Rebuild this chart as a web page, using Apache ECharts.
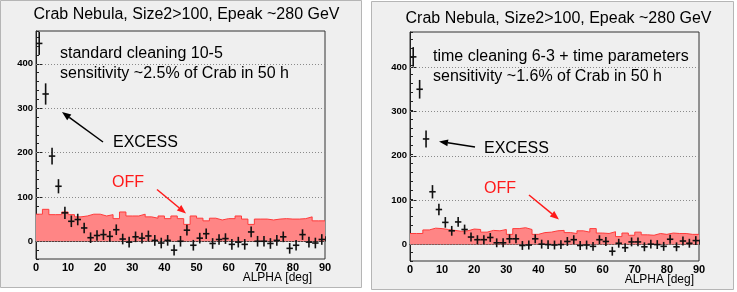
<!DOCTYPE html>
<html><head><meta charset="utf-8">
<script src="https://cdn.jsdelivr.net/npm/echarts@6/dist/echarts.min.js"></script>
<style>html,body{margin:0;padding:0;background:#fff}#c{width:737px;height:292px}</style>
</head><body><div id="c"></div>
<script>
// ---- data ----
const alphaCenters = [1,3,5,7,9,11,13,15,17,19,21,23,25,27,29,31,33,35,37,39,41,43,45,47,49,51,53,55,57,59,61,63,65,67,69,71,73,75,77,79,81,83,85,87,89];
const binEdges = [0,2,4,6,8,10,12,14,16,18,20,22,24,26,28,30,32,34,36,38,40,42,44,46,48,50,52,54,56,58,60,62,64,66,68,70,72,74,76,78,80,82,84,86,88,90];
const binHalfWidth = 1;
const leftExcess = [446,332,192,124,64,45,49,30,8,13,15,11,26,5,-2,10,7,12,2,-4,2,-20,0,25,-9,7,17,-5,4,6,-7,-2,-7,21,0,0,-5,2,10,-16,-9,15,-2,-4,4];
const leftExcessErr = [26,24,19,16,14,13,13,12,12,12,12,12,12,12,12,12,12,12,12,12,12,12,12,12,12,12,12,12,12,12,12,12,12,12,12,12,12,12,12,12,12,12,12,12,12];
const leftOff = [61,72,60,60,66,60,55,57,61,61,57,60,51,66,57,57,61,55,52,57,51,57,51,38,57,52,46,52,48,51,51,57,50,38,50,50,48,50,51,50,50,51,55,46,46];
const rightExcess = [423,350,238,119,79,50,31,51,34,17,11,11,16,4,4,13,13,-2,-1,13,1,0,-1,0,7,11,-2,-1,-4,11,7,-15,3,-7,6,6,-5,1,0,-4,12,-5,8,3,9];
const rightExcessErr = [22,21,19,15,13,12,11,11,11,10,10,10,10,10,10,10,10,10,10,10,10,10,10,10,10,10,10,10,10,10,10,10,10,10,10,10,10,10,10,10,10,10,10,10,10];
const rightOff = [25,25,33,37,36,34,32,30,31,35,34,28,32,31,34,23,36,38,34,23,27,28,31,32,27,25,31,28,36,26,25,29,18,26,21,28,22,21,25,23,26,25,25,23,23];
const yMajorTicks = [0,100,200,300,400];
const titleText = 'Crab Nebula, Size2>100, Epeak ~280 GeV';
const xName = 'ALPHA [deg]';

// ---- build ----
const FONT = '"Liberation Sans", Arial, Helvetica, sans-serif';
const chart = echarts.init(document.getElementById('c'), null, {renderer:'canvas'});

function stepData(off){ const d = off.map((v,i)=>[binEdges[i], v]); d.push([binEdges[binEdges.length-1], off[off.length-1]]); return d; }
function errData(vals, errs){ return vals.map((v,i)=>[alphaCenters[i], v, errs[i]]); }

function crossRender(params, api){
  const x = api.value(0), y = api.value(1), e = api.value(2);
  const l = api.coord([x-binHalfWidth, y]), r = api.coord([x+binHalfWidth, y]);
  const t = api.coord([x, y+e]), b = api.coord([x, y-e]);
  const st = {stroke:'#111', lineWidth:1.6};
  return {type:'group', children:[
    {type:'line', shape:{x1:l[0],y1:l[1],x2:r[0],y2:r[1]}, style:st},
    {type:'line', shape:{x1:t[0],y1:t[1],x2:b[0],y2:b[1]}, style:st}
  ]};
}

const axisCol = '#222';
function xAx(g){ return {type:'value', gridIndex:g, min:0, max:90, interval:10,
  axisLine:{lineStyle:{color:axisCol,width:1}},
  axisTick:{inside:true, length:5, lineStyle:{color:axisCol}},
  minorTick:{show:true, splitNumber:5, length:3, lineStyle:{color:axisCol}},
  splitLine:{show:false},
  axisLabel:{fontSize:11, fontWeight:'bold', color:'#000', margin:3, fontFamily:FONT}}; }
function yAxMinor(g, mn, mx){ return {type:'value', gridIndex:g, position:'left', min:mn, max:mx, interval:20,
  axisLine:{show:true, lineStyle:{color:axisCol}},
  axisTick:{inside:true, length:3, lineStyle:{color:axisCol}},
  splitLine:{show:false},
  axisLabel:{show:true, customValues:yMajorTicks, fontSize:9.5, fontWeight:'bold', color:'#000', margin:3, fontFamily:FONT,
    formatter:(v)=> (yMajorTicks.indexOf(v) >= 0 ? String(v) : '')}}; }
function yAxMajor(g, mn, mx){ return {type:'value', gridIndex:g, position:'left', min:mn, max:mx,
  axisLine:{show:false},
  axisTick:{show:true, inside:true, length:7, customValues:yMajorTicks, lineStyle:{color:axisCol}},
  splitLine:{show:false}, axisLabel:{show:false}}; }

function offSeries(xi, yi, off){ return {type:'line', xAxisIndex:xi, yAxisIndex:yi, data:stepData(off), step:'end',
  symbol:'none', lineStyle:{color:'#ff3b3b', width:1}, areaStyle:{color:'#ff8585', opacity:1}, z:2,
  markLine:{silent:true, symbol:'none', label:{show:false},
    lineStyle:{color:'#8a8a8a', type:[1,2], width:1}, data: yMajorTicks.map(v=>({yAxis:v}))}}; }
function excSeries(xi, yi, vals, errs){ return {type:'custom', xAxisIndex:xi, yAxisIndex:yi, data:errData(vals, errs),
  renderItem:crossRender, z:5, clip:true}; }

function arrow(x1,y1,x2,y2,color){
  const a = Math.atan2(y2-y1, x2-x1), L = 9, W = 3.5;
  const bx = x2 - L*Math.cos(a), by = y2 - L*Math.sin(a);
  const px = -Math.sin(a)*W, py = Math.cos(a)*W;
  return [
    {type:'line', shape:{x1:x1,y1:y1,x2:bx,y2:by}, style:{stroke:color, lineWidth:1.5}, z:10},
    {type:'polygon', shape:{points:[[x2,y2],[bx+px,by+py],[bx-px,by-py]]}, style:{fill:color}, z:10}
  ];
}
function txt(x,y,s,size,color,align){ return {type:'text', x:x, y:y, z:10,
  style:{text:s, font:size+'px '+FONT, fill:color, textAlign:align||'left', textVerticalAlign:'middle'}}; }

const graphics = [
  {type:'rect', shape:{x:0.5,y:0.5,width:361,height:287}, style:{fill:'#efefef', stroke:'#b5b5b5', lineWidth:1}, z:-10},
  {type:'rect', shape:{x:371.5,y:1.5,width:362,height:288}, style:{fill:'#efefef', stroke:'#b5b5b5', lineWidth:1}, z:-10},
  txt(186.5, 15, titleText, 16, '#000', 'center'),
  txt(558.5, 19, titleText, 16, '#000', 'center'),
  txt(60, 54, 'standard cleaning 10-5', 16, '#000'),
  txt(60, 74, 'sensitivity ~2.5% of Crab in 50 h', 16, '#000'),
  txt(433, 57, 'time cleaning 6-3 + time parameters', 16, '#000'),
  txt(433, 77, 'sensitivity ~1.6% of Crab in 50 h', 16, '#000'),
  txt(113, 142.5, 'EXCESS', 16, '#000'),
  txt(484, 148.5, 'EXCESS', 16, '#000'),
  txt(112, 182.5, 'OFF', 16, '#ff1a1a'),
  txt(484, 188.5, 'OFF', 16, '#ff1a1a'),
  txt(312, 278, xName, 12, '#000', 'right'),
  txt(694, 280, xName, 12, '#000', 'right'),
  ...arrow(103, 142, 62, 112, '#000'),
  ...arrow(475, 147, 439, 141.5, '#000'),
  ...arrow(157, 189.5, 186, 213.5, '#ff1a1a'),
  ...arrow(529, 195, 559, 219.5, '#ff1a1a')
];

const option = {
  backgroundColor:'#ffffff',
  animation:false,
  grid:[
    {left:36, top:31, width:289, height:228, show:true, borderColor:'#333', borderWidth:1, backgroundColor:'transparent'},
    {left:410, top:32, width:289, height:229, show:true, borderColor:'#333', borderWidth:1, backgroundColor:'transparent'}
  ],
  xAxis:[xAx(0), xAx(1)],
  yAxis:[yAxMinor(0,-40,474), yAxMajor(0,-40,474), yAxMinor(1,-37,479), yAxMajor(1,-37,479)],
  series:[
    offSeries(0,0,leftOff), excSeries(0,0,leftExcess,leftExcessErr),
    offSeries(1,2,rightOff), excSeries(1,2,rightExcess,rightExcessErr)
  ],
  graphic:{elements:graphics}
};
chart.setOption(option);
</script></body></html>
